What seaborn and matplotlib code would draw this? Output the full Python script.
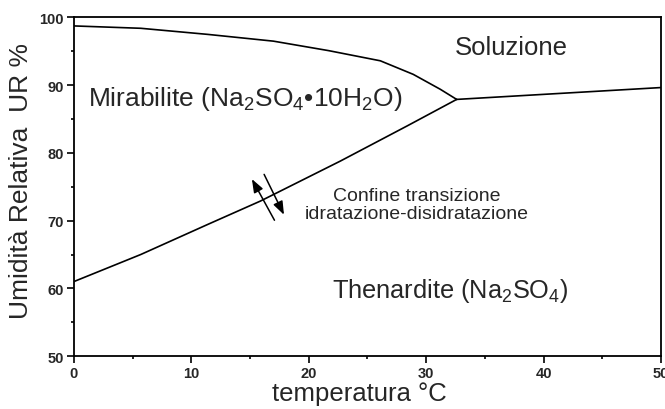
import matplotlib
matplotlib.use("Agg")
import matplotlib.pyplot as plt
import seaborn as sns
import pandas as pd
from matplotlib.ticker import MultipleLocator

# --- Data (temperature degC, relative humidity %) ---
# Mirabilite / solution boundary
upper_t = [0, 5.7, 11.4, 17.0, 21.7, 26.1, 28.9, 31.2, 32.6]
upper_rh = [98.75, 98.4, 97.5, 96.5, 95.1, 93.6, 91.6, 89.4, 87.9]

# Mirabilite / thenardite boundary
lower_t = [0, 5.7, 11.35, 15.9, 22.7, 28.4, 32.6]
lower_rh = [61.0, 65.0, 69.4, 72.9, 78.8, 84.0, 87.9]

# Thenardite / solution boundary
sol_t = [32.6, 50]
sol_rh = [87.9, 89.65]

x_ticks = [0, 10, 20, 30, 40, 50]
y_ticks = [50, 60, 70, 80, 90, 100]

sns.set_style("ticks")
plt.rcParams["font.family"] = ["Liberation Sans", "DejaVu Sans"]
plt.rcParams["mathtext.fontset"] = "custom"
plt.rcParams["mathtext.rm"] = "Liberation Sans"
plt.rcParams["mathtext.it"] = "Liberation Sans:italic"
plt.rcParams["mathtext.bf"] = "Liberation Sans:bold"

fig = plt.figure(figsize=(6.65, 4.1), dpi=100)
ax = fig.add_axes([0.111, 0.129, 0.883, 0.826])

curves = [(upper_t, upper_rh), (lower_t, lower_rh), (sol_t, sol_rh)]
for t, rh in curves:
    df = pd.DataFrame({"t": t, "rh": rh})
    sns.lineplot(data=df, x="t", y="rh", ax=ax, color="black", linewidth=1.2,
                 estimator=None, sort=True)

ax.set_xlim(0, 50)
ax.set_ylim(50, 100)
ax.set_xticks(x_ticks)
ax.set_yticks(y_ticks)
ax.xaxis.set_minor_locator(MultipleLocator(5))
ax.yaxis.set_minor_locator(MultipleLocator(5))
ax.tick_params(which="major", length=5, width=1.2, labelsize=10.5, pad=2, color="black")
ax.tick_params(which="minor", length=2.5, width=1.2, color="black")
for lab in ax.get_xticklabels() + ax.get_yticklabels():
    lab.set_fontweight("bold")
for side in ["left", "bottom", "top", "right"]:
    ax.spines[side].set_visible(True)
    ax.spines[side].set_linewidth(1.3)
    ax.spines[side].set_color("black")

ax.set_xlabel("temperatura °C", fontsize=18.5, labelpad=1, x=0.486)
ax.set_ylabel("Umidità Relativa  UR %", fontsize=19, labelpad=5, y=0.52)

# Region labels
ax.text(32.45, 94.6, "Soluzione", fontsize=18.5, ha="left", va="baseline")
ax.text(1.2, 87.05, "Mirabilite (Na$_2$SO$_4$•10H$_2$O)", fontsize=19,
        ha="left", va="baseline")
ax.text(21.98, 58.7, "Thenardite (Na$_2$SO$_4$)", fontsize=18.3, ha="left", va="baseline")
ax.text(29.2, 72.4, "Confine transizione\nidratazione-disidratazione", fontsize=14,
        ha="center", va="center", linespacing=1.05)

# Double arrows across the hydration boundary
arrow_kw = dict(arrowstyle="-|>,head_length=0.8,head_width=0.3", color="black", lw=1.1)
ax.annotate("", xy=(15.05, 76.5), xytext=(17.2, 69.7), arrowprops=arrow_kw)
ax.annotate("", xy=(18.0, 70.5), xytext=(16.1, 77.2), arrowprops=arrow_kw)

fig.savefig("out.png", dpi=100)
